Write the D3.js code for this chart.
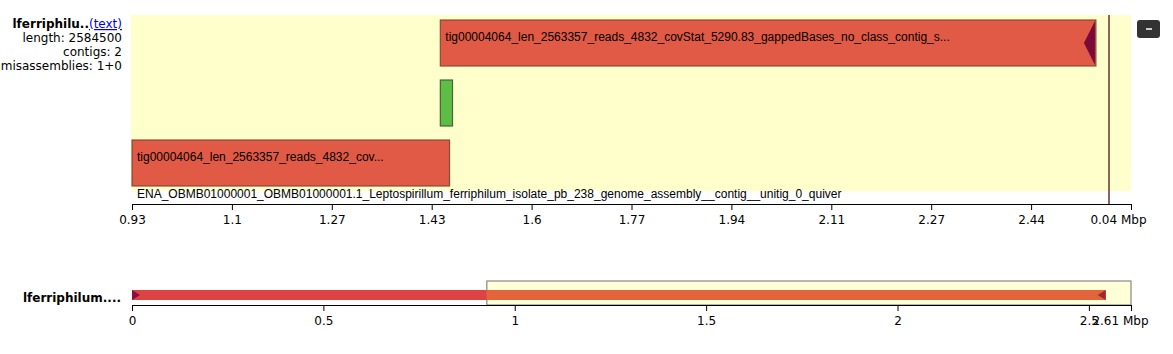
<!DOCTYPE html>
<html>
<head>
<meta charset="utf-8">
<script src="https://cdn.jsdelivr.net/npm/d3@7"></script>
<style>
  body { margin: 0; background: #fff; }
  svg { display: block; }
  .lbl { font-family: "DejaVu Sans", sans-serif; font-size: 12px; fill: #000; }
  .ctg { font-family: "Liberation Sans", Arial, sans-serif; font-size: 12px; fill: #000; }
  .axis text { font-family: "DejaVu Sans", sans-serif; font-size: 12px; fill: #000; }
  .axis path, .axis line { stroke: #000; }
</style>
</head>
<body>
<div id="chart"></div>
<script>
// main (zoomed) view, Mbp
const mainDomain = [0.93, 2.61];
const mainTicks  = [0.93, 1.098, 1.266, 1.434, 1.602, 1.77, 1.938, 2.106, 2.274, 2.442, 2.61];
const mainTickLabels = ["0.93", "1.1", "1.27", "1.43", "1.6", "1.77", "1.94", "2.11", "2.27", "2.44", "0.04 Mbp"];

// contig blocks in the zoomed view
const blocks = [
  { start: 1.4485, end: 2.551, lane: 0, kind: "mis", label: "tig00004064_len_2563357_reads_4832_covStat_5290.83_gappedBases_no_class_contig_s...", arrow: "left" },
  { start: 1.4485, end: 1.469, lane: 1, kind: "ok",  label: "" },
  { start: 0.93,   end: 1.464, lane: 2, kind: "mis", label: "tig00004064_len_2563357_reads_4832_cov..." }
];
const refEnd = 2.573;
const refName = "ENA_OBMB01000001_OBMB01000001.1_Leptospirillum_ferriphilum_isolate_pb_238_genome_assembly__contig__unitig_0_quiver";
const infoLines = ["length: 2584500", "contigs: 2", "misassemblies: 1+0"];

// overview
const overDomain = [0, 2.61];
const overTicks  = [0, 0.5, 1, 1.5, 2, 2.5, 2.61];
const overTickLabels = ["0", "0.5", "1", "1.5", "2", "2.5", "2.61 Mbp"];
const overBlocks = [
  { start: 0,     end: 0.927, colour: "#dc4444" },
  { start: 0.927, end: 2.544, colour: "#e2643a" }
];
const brushRange = [0.927, 2.61];

const W = 1173, H = 354;
const svg = d3.select("#chart").append("svg").attr("width", W).attr("height", H);

const x = d3.scaleLinear().domain(mainDomain).range([132, 1131]);
const laneY = d3.scaleBand().domain([0, 1, 2]).range([20, 186]).paddingInner(14 / 60).paddingOuter(0);

// background
svg.append("rect")
  .attr("x", 131).attr("y", 15)
  .attr("width", 1000).attr("height", 176)
  .attr("fill", "#ffffcc");

const fills = { mis: "#e05a45", ok: "#5dbd46" };
const strokes = { mis: "#7a4432", ok: "#3a5a2a" };

blocks.forEach(b => {
  const x0 = x(b.start), x1 = x(b.end);
  const y0 = laneY(b.lane), h = laneY.bandwidth();
  svg.append("rect")
    .attr("x", x0).attr("y", y0)
    .attr("width", x1 - x0).attr("height", h)
    .attr("fill", fills[b.kind])
    .attr("stroke", strokes[b.kind])
    .attr("stroke-width", 1.2)
    .attr("stroke-opacity", 0.9);
  if (b.arrow === "left") {
    svg.append("path")
      .attr("d", `M${x1 - 1},${y0 + 1} L${x1 - 12},${y0 + h / 2} L${x1 - 1},${y0 + h - 1} Z`)
      .attr("fill", "#7a0a3a");
  }
  if (b.label) {
    svg.append("text")
      .attr("class", "ctg")
      .attr("x", x0 + 5).attr("y", y0 + 21)
      .text(b.label);
  }
});

// reference end line
svg.append("line")
  .attr("x1", x(refEnd)).attr("x2", x(refEnd))
  .attr("y1", 15).attr("y2", 204)
  .attr("stroke", "#6b2f2f").attr("stroke-width", 1.5);

svg.append("text")
  .attr("class", "ctg")
  .attr("x", 137).attr("y", 198)
  .text(refName);

// main axis
const ax = svg.append("g")
  .attr("class", "axis")
  .attr("transform", "translate(0,204)")
  .call(d3.axisBottom(x).tickValues(mainTicks).tickSize(6).tickSizeOuter(6)
    .tickFormat((d, i) => mainTickLabels[i]));
ax.selectAll("text").attr("dy", "0.9em");
ax.selectAll(".tick").filter((d, i) => i === mainTicks.length - 1)
  .select("text").attr("text-anchor", "end").attr("dx", "15");

// left info
const info = svg.append("g");
const t0 = info.append("text").attr("class", "lbl").attr("x", 122).attr("y", 28).attr("text-anchor", "end");
t0.append("tspan").attr("font-weight", "bold").text("lferriphilu..");
t0.append("tspan").attr("fill", "#0000ee").attr("text-decoration", "underline").text("(text)");
infoLines.forEach((s, i) => {
  info.append("text").attr("class", "lbl")
    .attr("x", 122).attr("y", 42 + i * 14)
    .attr("text-anchor", "end").text(s);
});

// collapse button
svg.append("rect")
  .attr("x", 1137).attr("y", 20).attr("width", 23).attr("height", 18)
  .attr("rx", 3).attr("fill", "#333");
svg.append("line")
  .attr("x1", 1146).attr("x2", 1152).attr("y1", 29).attr("y2", 29)
  .attr("stroke", "#fff").attr("stroke-width", 1.5);

// overview
const ox = d3.scaleLinear().domain(overDomain).range([132, 1131]);

svg.append("rect")
  .attr("x", ox(brushRange[0])).attr("y", 281)
  .attr("width", ox(brushRange[1]) - ox(brushRange[0])).attr("height", 24)
  .attr("fill", "#ffffd8").attr("stroke", "#888").attr("stroke-width", 1.2);

overBlocks.forEach(b => {
  svg.append("rect")
    .attr("x", ox(b.start)).attr("y", 290)
    .attr("width", ox(b.end) - ox(b.start)).attr("height", 10)
    .attr("fill", b.colour);
});
svg.append("path")
  .attr("d", `M${ox(0)},290 L${ox(0) + 8},295 L${ox(0)},300 Z`).attr("fill", "#8a0f3a");
svg.append("path")
  .attr("d", `M${ox(2.544)},290 L${ox(2.544) - 8},295 L${ox(2.544)},300 Z`).attr("fill", "#a0282a");

svg.append("text").attr("class", "lbl")
  .attr("x", 121).attr("y", 302).attr("text-anchor", "end")
  .attr("font-weight", "bold").text("lferriphilum....");

const oax = svg.append("g")
  .attr("class", "axis")
  .attr("transform", "translate(0,305)")
  .call(d3.axisBottom(ox).tickValues(overTicks).tickSize(6).tickSizeOuter(6)
    .tickFormat((d, i) => overTickLabels[i]));
oax.selectAll("text").attr("dy", "0.9em");
oax.selectAll(".tick").filter((d, i) => i === overTicks.length - 1)
  .select("text").attr("text-anchor", "end").attr("dx", "17");
</script>
</body>
</html>
